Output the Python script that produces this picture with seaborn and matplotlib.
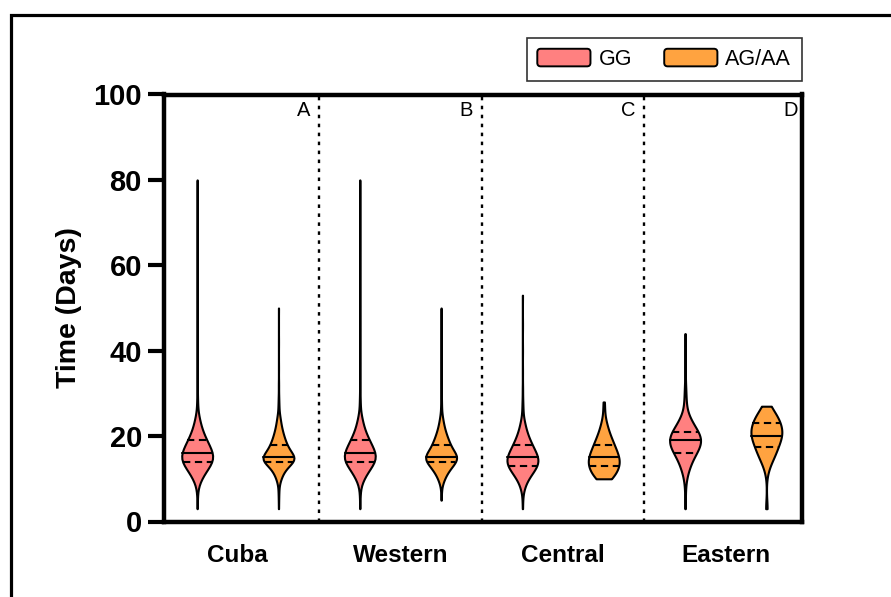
import numpy as np
import pandas as pd
import matplotlib
matplotlib.use("Agg")
import matplotlib.pyplot as plt
import seaborn as sns
from matplotlib.patches import Rectangle, FancyBboxPatch, Patch
from matplotlib.legend_handler import HandlerPatch
from matplotlib.collections import LineCollection

sns.set_style("ticks")
plt.rcParams["font.family"] = ["Liberation Sans", "DejaVu Sans"]
plt.rcParams["text.color"] = "black"
plt.rcParams["axes.labelcolor"] = "black"
plt.rcParams["xtick.color"] = "black"
plt.rcParams["ytick.color"] = "black"

regions = ["Cuba", "Western", "Central", "Eastern"]
genotypes = ["GG", "AG/AA"]
panel_letters = ["A", "B", "C", "D"]

cuba_gg_days = [3, 5, 7, 9, 10, 11, 12, 13, 14, 15, 16, 17, 18, 19, 20, 21, 22, 23, 24, 25, 27, 29, 32, 35, 40, 46, 55, 65, 80]
cuba_gg_counts = [1, 2, 5, 12, 20, 30, 45, 60, 75, 80, 75, 65, 55, 45, 35, 27, 20, 15, 11, 8, 5, 4, 3, 2, 2, 1, 1, 1, 1]

cuba_ag_days = [3, 5, 7, 9, 10, 11, 12, 13, 14, 15, 16, 17, 18, 19, 20, 21, 22, 23, 24, 25, 27, 29, 32, 36, 42, 50]
cuba_ag_counts = [1, 2, 4, 6, 12, 20, 32, 46, 85, 95, 66, 52, 42, 34, 27, 21, 16, 12, 9, 7, 5, 3, 2, 1, 1, 1]

western_gg_days = [3, 5, 7, 9, 10, 11, 12, 13, 14, 15, 16, 17, 18, 19, 20, 21, 22, 23, 24, 25, 27, 29, 32, 36, 42, 48, 60, 80]
western_gg_counts = [1, 2, 5, 11, 19, 29, 44, 58, 74, 80, 76, 66, 55, 46, 35, 27, 20, 15, 11, 8, 5, 4, 3, 2, 1, 1, 1, 1]

western_ag_days = [5, 7, 9, 10, 11, 12, 13, 14, 15, 16, 17, 18, 19, 20, 21, 22, 23, 24, 25, 27, 29, 32, 36, 42, 50]
western_ag_counts = [1, 3, 8, 14, 22, 34, 48, 66, 80, 62, 46, 40, 32, 25, 19, 14, 10, 7, 5, 4, 3, 2, 1, 1, 1]

central_gg_days = [3, 5, 7, 8, 9, 10, 11, 12, 13, 14, 15, 16, 17, 18, 19, 20, 21, 22, 23, 24, 26, 28, 31, 35, 40, 46, 53]
central_gg_counts = [1, 2, 4, 7, 12, 20, 30, 42, 52, 58, 55, 48, 40, 33, 26, 20, 15, 11, 8, 6, 4, 3, 2, 1, 1, 1, 1]

central_ag_days = [10, 11, 12, 13, 14, 15, 16, 17, 18, 19, 20, 21, 22, 23, 24, 26, 28]
central_ag_counts = [6, 7, 8, 9, 10, 9, 8, 7, 6, 5, 4, 3, 2, 2, 1, 1, 1]

eastern_gg_days = [3, 6, 9, 11, 12, 13, 14, 15, 16, 17, 18, 19, 20, 21, 22, 23, 24, 25, 27, 29, 31, 34, 38, 44]
eastern_gg_counts = [1, 1, 2, 3, 4, 5, 7, 9, 12, 15, 18, 19, 18, 15, 11, 8, 6, 4, 3, 2, 2, 1, 1, 1]

eastern_ag_days = [3, 12, 14, 15, 16, 17, 18, 19, 20, 21, 22, 23, 24, 25, 26, 27]
eastern_ag_counts = [1, 1, 2, 2, 3, 3, 3, 4, 5, 5, 4, 4, 4, 3, 2, 1]

series = {
    ("Cuba", "GG"): (cuba_gg_days, cuba_gg_counts),
    ("Cuba", "AG/AA"): (cuba_ag_days, cuba_ag_counts),
    ("Western", "GG"): (western_gg_days, western_gg_counts),
    ("Western", "AG/AA"): (western_ag_days, western_ag_counts),
    ("Central", "GG"): (central_gg_days, central_gg_counts),
    ("Central", "AG/AA"): (central_ag_days, central_ag_counts),
    ("Eastern", "GG"): (eastern_gg_days, eastern_gg_counts),
    ("Eastern", "AG/AA"): (eastern_ag_days, eastern_ag_counts),
}

rows = []
for (reg, gen), (days, counts) in series.items():
    vals = np.repeat(np.array(days, dtype=float), counts)
    rows.append(pd.DataFrame({"Region": reg, "Genotype": gen, "Days": vals}))
df = pd.concat(rows, ignore_index=True)

palette = {"GG": "#FF8080", "AG/AA": "#FFA340"}

# ---- figure ----
W, H = 891, 597
fig = plt.figure(figsize=(W / 100, H / 100), dpi=100)
ax_l, ax_r, ax_t, ax_b = 163.5, 802, 94.5, 521.5
ax = fig.add_axes([ax_l / W, 1 - ax_b / H, (ax_r - ax_l) / W, (ax_b - ax_t) / H])

n_lines_before = len(ax.lines)
n_coll_before = len(ax.collections)
sns.violinplot(
    data=df, x="Region", y="Days", hue="Genotype",
    order=regions, hue_order=genotypes, palette=palette,
    cut=0, inner="quart", density_norm="width", width=1.0, gap=0.62,
    linecolor="black", linewidth=1.5, saturation=1, legend=False, ax=ax,
)

# median solid, quartiles dashed
dash_style = (0, (3.5, 2.2))
new_lines = ax.lines[n_lines_before:]
horiz = [l for l in new_lines if len(l.get_ydata()) == 2 and l.get_ydata()[0] == l.get_ydata()[1]]
for i in range(0, len(horiz) - 2, 3):
    grp = sorted(horiz[i:i + 3], key=lambda l: l.get_ydata()[0])
    grp[0].set_linestyle(dash_style)
    grp[1].set_linestyle("-")
    grp[2].set_linestyle(dash_style)
for c in ax.collections[n_coll_before:]:
    if isinstance(c, LineCollection):
        segs = c.get_segments()
        if len(segs) == 3:
            order = np.argsort([s[0][1] for s in segs])
            styles = [None] * 3
            styles[order[0]] = dash_style
            styles[order[1]] = "solid"
            styles[order[2]] = dash_style
            c.set_linestyles(styles)
        c.set_color("black")

# panel separators and letters
for b in [0.5, 1.5, 2.5]:
    ax.axvline(b, color="black", lw=1.7, linestyle=(0, (1.5, 2.3)), zorder=0)
for i, letter in enumerate(panel_letters):
    ax.text(i + 0.445, 96.2, letter, ha="right", va="center", fontsize=14.5, color="black")

ax.set_xlim(-0.457, 3.469)
ax.set_ylim(0, 100)
ax.set_yticks([0, 20, 40, 60, 80, 100])
ax.set_xlabel("")
ax.set_ylabel("Time (Days)", fontsize=20.5, fontweight="bold", labelpad=8, color="black")
for spine in ax.spines.values():
    spine.set_linewidth(3.2)
    spine.set_color("black")
    spine.set_visible(True)
ax.tick_params(axis="y", length=11.5, width=3.0, labelsize=21, pad=4, color="black", labelcolor="black")
ax.tick_params(axis="x", length=0, labelsize=17.5, pad=16, labelcolor="black")
for t in ax.get_yticklabels():
    t.set_fontweight("bold")
for t in ax.get_xticklabels():
    t.set_fontweight("bold")

# legend with rounded colour boxes
class RoundHandler(HandlerPatch):
    def create_artists(self, legend, orig_handle, xdescent, ydescent, width, height, fontsize, trans):
        p = FancyBboxPatch((-xdescent, -ydescent), width, height,
                           boxstyle="round,pad=0,rounding_size=2.5",
                           facecolor=orig_handle.get_facecolor(), edgecolor="black",
                           linewidth=1.4, transform=trans)
        return [p]

handles = [Patch(facecolor=palette[g], edgecolor="black") for g in genotypes]
leg = fig.legend(handles, genotypes, loc="upper right",
                 bbox_to_anchor=(ax_r / W, 1 - 38 / H), borderaxespad=0,
                 ncol=2, fontsize=15.5, frameon=True, fancybox=False,
                 handlelength=2.47, handleheight=0.88, handletextpad=0.37,
                 columnspacing=1.5, borderpad=0.5,
                 handler_map={Patch: RoundHandler()})
leg.get_frame().set_edgecolor("black")
leg.get_frame().set_linewidth(1.2)
for t in leg.get_texts():
    t.set_color("black")

# outer figure frame (open to the right and bottom)
fig.add_artist(Rectangle((11 / W, -0.2), 1.2, 1.2 - 15 / H, transform=fig.transFigure,
                         fill=False, edgecolor="black", linewidth=2.3, clip_on=False))

fig.savefig("out.png", dpi=100)
